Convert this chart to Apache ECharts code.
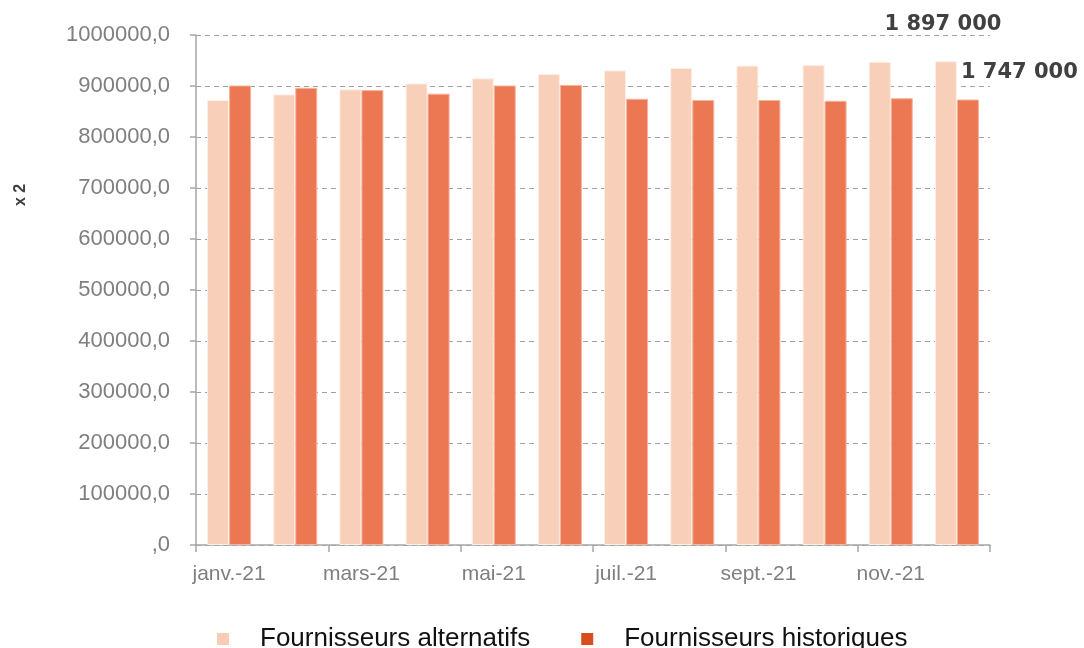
<!DOCTYPE html>
<html>
<head>
<meta charset="utf-8">
<title>Fournisseurs alternatifs / historiques</title>
<script src="https://cdn.jsdelivr.net/npm/echarts@6/dist/echarts.min.js"></script>
<style>
    html, body { margin: 0; padding: 0; background: #fff; }
    #chart { width: 1084px; height: 648px; }
</style>
</head>
<body>
<div id="chart"></div>
<script>
// Monthly values (shown halved, see "x 2" on the axis)
const months = ['janv.-21', 'févr.-21', 'mars-21', 'avr.-21', 'mai-21', 'juin-21',
    'juil.-21', 'août-21', 'sept.-21', 'oct.-21', 'nov.-21', 'déc.-21'];
const alternatifs = [872500, 883500, 893500, 905000, 915000, 923500,
    930500, 935500, 940000, 941000, 947500, 948500];
const historiques = [901000, 896500, 892000, 885000, 901000, 902000,
    875000, 872500, 872500, 871000, 876000, 873500];
const seriesNames = ['Fournisseurs alternatifs', 'Fournisseurs historiques'];

const FONT = '"Liberation Sans", Arial, sans-serif';
const BOLD_FONT = '"DejaVu Sans", sans-serif';

// "1897000" -> "1 897 000"
function spaced(v) {
    return String(Math.round(v)).replace(/\B(?=(\d{3})+(?!\d))/g, ' ');
}

function lastLabel(values, label) {
    return values.map((v, i) => i === values.length - 1 ? { value: v, label: label } : v);
}

document.addEventListener('DOMContentLoaded', function() {
    const chart = echarts.init(document.getElementById('chart'));

    const option = {
        animation: false,
        backgroundColor: '#ffffff',
        grid: { left: 196, right: 94, top: 35, bottom: 103 },
        legend: {
            bottom: -9,
            left: 212,
            icon: 'rect',
            itemWidth: 12,
            itemHeight: 12,
            itemGap: 51,
            data: [
                { name: seriesNames[0], itemStyle: { color: '#f9ccb5', borderWidth: 0 } },
                { name: seriesNames[1], itemStyle: { color: '#d84d1c', borderWidth: 0 } }
            ],
            textStyle: {
                fontFamily: FONT,
                fontSize: 26,
                color: '#111111',
                padding: [0, 0, 0, 26]
            }
        },
        graphic: [{
            type: 'text',
            x: 21,
            y: 195,
            rotation: Math.PI / 2,
            style: {
                text: 'x 2',
                font: 'bold 16px ' + FONT,
                fill: '#404040',
                textAlign: 'center',
                textVerticalAlign: 'middle'
            }
        }],
        xAxis: {
            type: 'category',
            data: months,
            axisLine: { lineStyle: { color: '#a6a6a6', width: 1.5 } },
            axisTick: { show: true, interval: 1, length: 7, lineStyle: { color: '#a6a6a6', width: 1.5 } },
            axisLabel: {
                interval: 1,
                fontFamily: FONT,
                fontSize: 21,
                color: '#7f7f7f',
                margin: 19
            }
        },
        yAxis: {
            type: 'value',
            min: 0,
            max: 1000000,
            interval: 100000,
            axisLine: { show: true, lineStyle: { color: '#a6a6a6', width: 1.5 } },
            axisTick: { show: true, length: 6, lineStyle: { color: '#a6a6a6', width: 1.5 } },
            axisLabel: {
                fontFamily: FONT,
                fontSize: 22,
                color: '#7f7f7f',
                margin: 26,
                formatter: v => v === 0 ? ',0' : v + ',0'
            },
            splitLine: { lineStyle: { color: '#a0a0a0', type: [5, 4], width: 1.2 } }
        },
        series: [
            {
                name: seriesNames[0],
                type: 'bar',
                barWidth: 22,
                barGap: '0%',
                itemStyle: { color: '#f8cfb8', borderColor: '#fdeee6', borderWidth: 1 },
                data: lastLabel(alternatifs, {
                    show: true,
                    position: 'top',
                    distance: 26,
                    offset: [-3, 0],
                    fontFamily: BOLD_FONT,
                    fontSize: 21,
                    fontWeight: 'bold',
                    color: '#404040',
                    formatter: p => spaced(p.value * 2)
                })
            },
            {
                name: seriesNames[1],
                type: 'bar',
                barWidth: 22,
                itemStyle: { color: '#ec7853', borderColor: '#f6b49d', borderWidth: 1 },
                data: lastLabel(historiques, {
                    show: true,
                    position: [4, -27],
                    align: 'left',
                    verticalAlign: 'middle',
                    fontFamily: BOLD_FONT,
                    fontSize: 21,
                    fontWeight: 'bold',
                    color: '#404040',
                    formatter: p => spaced(p.value * 2)
                })
            }
        ]
    };

    chart.setOption(option);
});
</script>
</body>
</html>
